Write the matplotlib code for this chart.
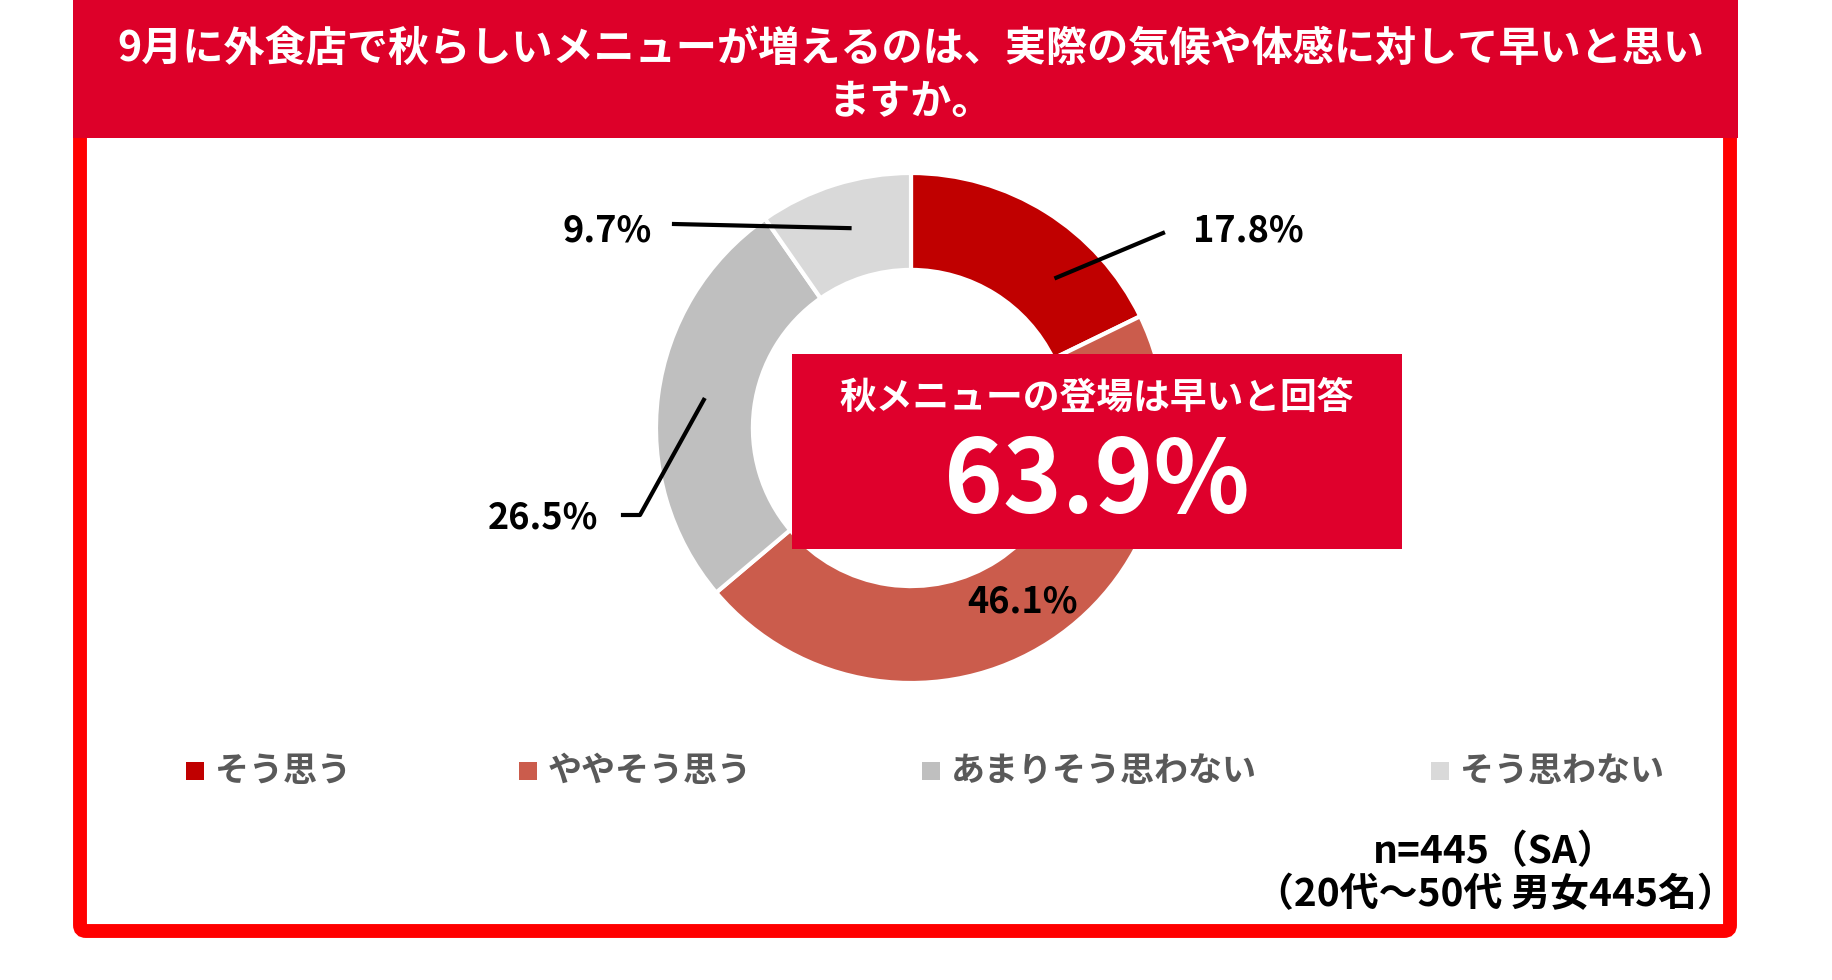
import matplotlib
matplotlib.use('Agg')
import numpy as np
import matplotlib.pyplot as plt
from matplotlib.patches import Rectangle, FancyBboxPatch

plt.rcParams['font.family'] = ['Noto Sans CJK JP', 'DejaVu Sans']

# datos
categorias = ['そう思う', 'ややそう思う', 'あまりそう思わない', 'そう思わない']
porcentajes = [17.8, 46.1, 26.5, 9.7]
colores = ['#C00000', '#CB5C4C', '#BFBFBF', '#D9D9D9']
titulo = '9月に外食店で秋らしいメニューが増えるのは、実際の気候や体感に対して早いと思い\nますか。'
texto_caja = '秋メニューの登場は早いと回答'
total_caja = 63.9
nota = 'n=445（SA）\n（20代～50代 男女445名）'

W, H = 1832, 980
fig = plt.figure(figsize=(W / 100, H / 100), dpi=100)
ax = fig.add_axes([0, 0, 1, 1])


def Y(y):
    # de coordenada "desde arriba" a coordenada del eje
    return H - y


# marco y banda del titulo
ax.add_patch(FancyBboxPatch((80, Y(931)), 1650, 928, boxstyle='round,pad=0,rounding_size=6',
                            facecolor='white', edgecolor='#FF0000', linewidth=10, zorder=1))
ax.add_patch(Rectangle((73, Y(138)), 1665, 138, facecolor='#DD0029', edgecolor='none', zorder=2))
ax.text(911, Y(76), titulo, color='white', fontsize=29.6, fontweight='bold',
        ha='center', va='center', linespacing=1.33, zorder=3)

# dona
cx, cy, r = 911, Y(428), 255
cunas, _ = ax.pie(porcentajes, colors=colores, startangle=90, counterclock=False,
                  radius=r, center=(cx, cy),
                  wedgeprops=dict(width=r * 0.38, edgecolor='white', linewidth=3))
for c in cunas:
    c.set_zorder(4)

# etiquetas con lineas guia
pos_etiquetas = [(1248, 231), (1023, 602), (543, 518), (607, 231)]
ajuste_angulo = [-12, 0, 0, 0]
radio_guia = 0.82
acum = 0
for i, (p, (lx, ly)) in enumerate(zip(porcentajes, pos_etiquetas)):
    medio = 90 - (acum + p / 2) * 3.6 + ajuste_angulo[i]
    acum += p
    sx = cx + r * radio_guia * np.cos(np.radians(medio))
    sy = cy + r * radio_guia * np.sin(np.radians(medio))
    etiqueta = f'{p:.1f}%'
    if i == 0:
        ax.plot([sx, lx - 85], [sy, Y(ly + 2)], color='black', lw=3, zorder=5)
    elif i == 2:
        ax.plot([lx + 80, lx + 97, sx], [Y(ly - 3), Y(ly - 3), sy], color='black', lw=3, zorder=5)
    elif i == 3:
        ax.plot([lx + 67, sx], [Y(ly - 7), sy], color='black', lw=3, zorder=5)
    ax.text(lx, Y(ly), etiqueta, fontsize=26, fontweight='bold', ha='center', va='center', zorder=6)

# caja central
ax.add_patch(Rectangle((792, Y(549)), 610, 195, facecolor='#DF002C', edgecolor='none', zorder=7))
ax.text(1097, Y(398), texto_caja, color='white', fontsize=26.5, fontweight='bold',
        ha='center', va='center', zorder=8)
ax.text(1097, Y(484), f'{total_caja:.1f}%', color='white', fontsize=72, fontweight='bold',
        ha='center', va='center', zorder=8)

# leyenda
ley_x = [195, 528, 931, 1440]
for x, nombre, col in zip(ley_x, categorias, colores):
    ax.add_patch(Rectangle((x - 9, Y(780)), 18, 18, facecolor=col, edgecolor='none', zorder=3))
    ax.text(x + 20, Y(771), nombre, color='#595959', fontsize=24.5, fontweight='bold',
            ha='left', va='center', zorder=3)

# nota
ax.text(1495, Y(873), nota, fontsize=28, fontweight='bold', ha='center', va='center',
        linespacing=1.12, zorder=3)

ax.set_xlim(0, W)
ax.set_ylim(0, H)
ax.set_aspect('equal')
ax.axis('off')

fig.savefig('out.png', dpi=100, facecolor='white')
